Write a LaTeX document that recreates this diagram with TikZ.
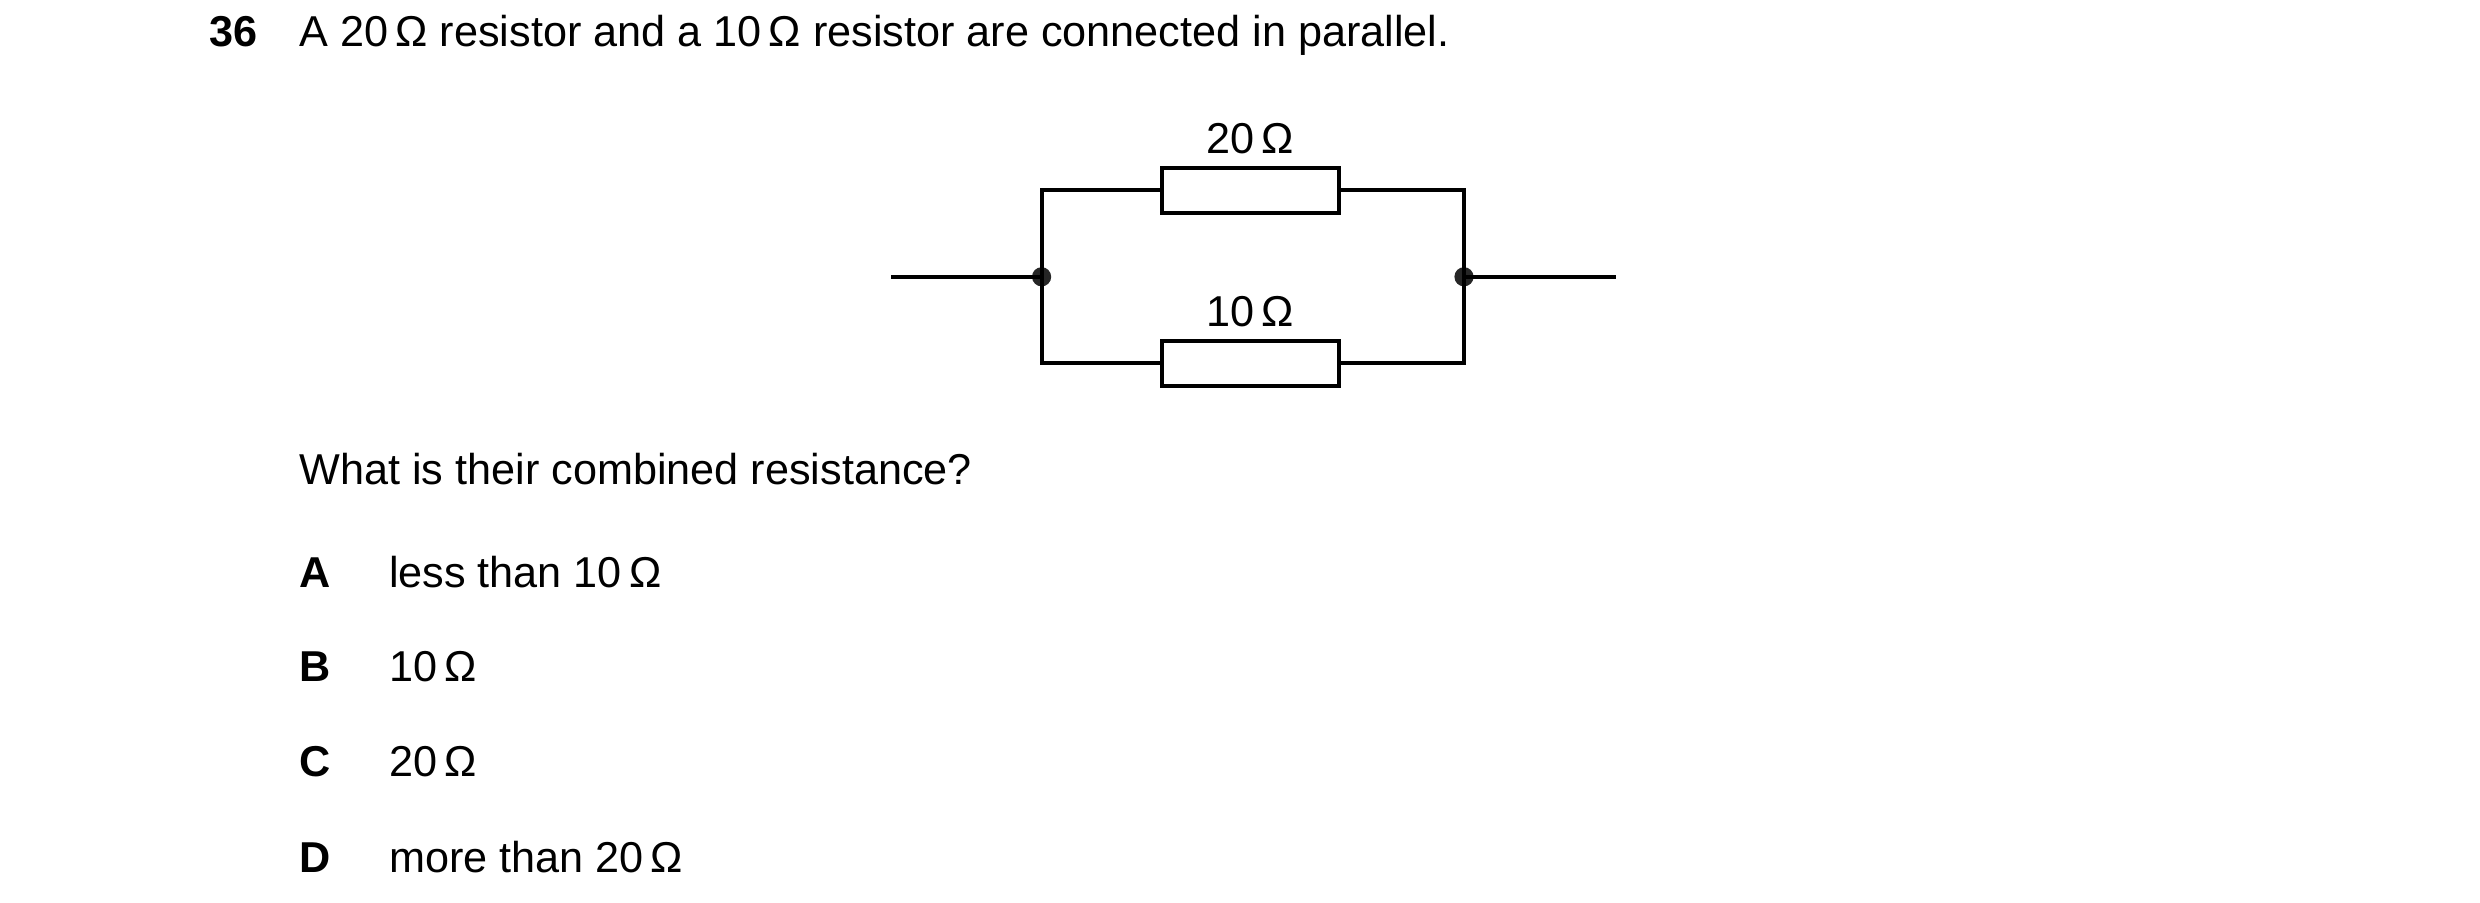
\documentclass[tikz,border=0pt]{standalone}
\usepackage{fontspec}
\setmainfont{Liberation Sans}
\begin{document}
\begin{tikzpicture}[x=1pt,y=-1pt,
  txt/.style={anchor=base west,inner sep=0pt,font=\fontsize{27}{30}\selectfont},
  lbl/.style={anchor=base,inner sep=0pt,font=\fontsize{27}{30}\selectfont},
  wire/.style={line width=2.6pt},
  res/.style={draw,line width=2.6pt,minimum width=111pt,minimum height=28pt,inner sep=0pt},
  dot/.style={circle,fill=black!85,minimum size=12pt,inner sep=0pt}]
\useasboundingbox (0,0) rectangle (1550,564);
\node[txt,font=\bfseries\fontsize{27}{30}\selectfont] (q) at (131,29) {36};
\node[txt] (stem) at (187,29) {A 20\,Ω resistor and a 10\,Ω resistor are connected in parallel.};
% circuit
\coordinate (L) at (557,173);
\coordinate (R) at (1010,173);
\node[dot] (n1) at (651,173) {};
\node[dot] (n2) at (915,173) {};
\node[res] (r1) at (781.5,119) {};
\node[res] (r2) at (781.5,227) {};
\node[lbl] (l1) at (781.5,96) {20\,Ω};
\node[lbl] (l2) at (781.5,204) {10\,Ω};
\draw[wire] (L) -- (n1.center);
\draw[wire] (n2.center) -- (R);
\draw[wire] (n1.center) |- (r1.west);
\draw[wire] (r1.east) -| (n2.center);
\draw[wire] (n1.center) |- (r2.west);
\draw[wire] (r2.east) -| (n2.center);
\node[txt] (ques) at (187,303) {What is their combined resistance?};
\foreach \l/\t/\y in {A/less than 10\,Ω/367,B/10\,Ω/426,C/20\,Ω/485,D/more than 20\,Ω/545}{
  \node[txt,font=\bfseries\fontsize{27}{30}\selectfont] (k\l) at (187,\y) {\l};
  \node[txt] (o\l) at (243,\y) {\t};
}
\end{tikzpicture}
\end{document}
